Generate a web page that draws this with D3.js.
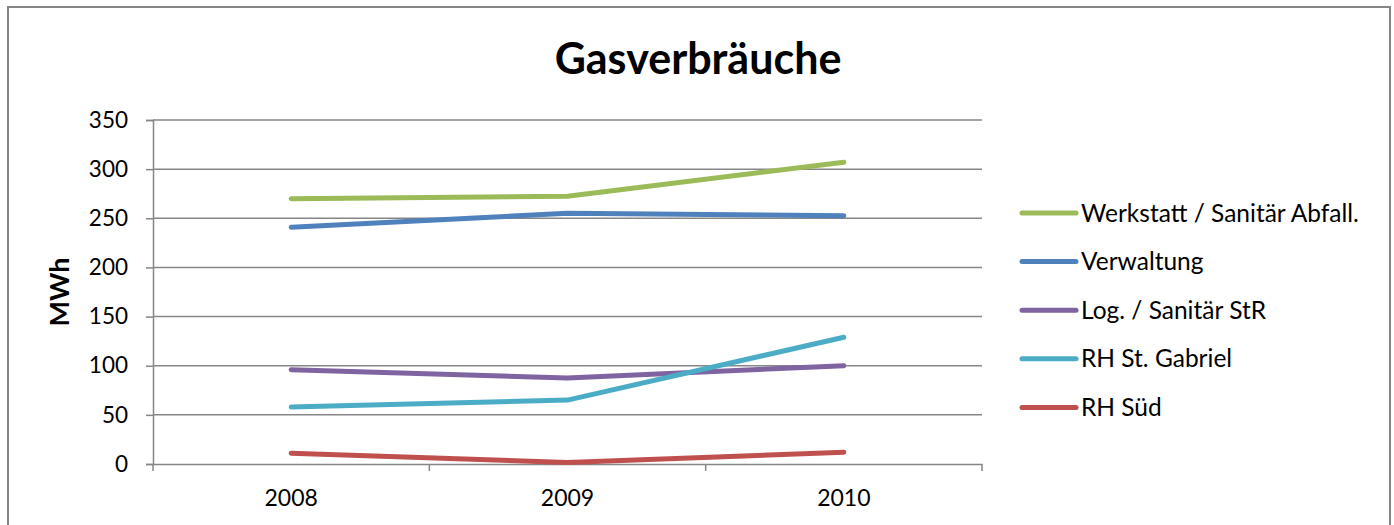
<!DOCTYPE html>
<html>
<head>
<meta charset="utf-8">
<script src="https://cdn.jsdelivr.net/npm/d3@7"></script>
<style>
  body { margin: 0; background: #fff; }
  text { font-family: Lato, "Open Sans", sans-serif; fill: #000; }
</style>
</head>
<body>
<div id="chart"></div>
<script>
// Data
var years = ["2008", "2009", "2010"];
var seriesNames = ["Werkstatt / Sanitär Abfall.", "Verwaltung", "Log. / Sanitär StR", "RH St. Gabriel", "RH Süd"];
var werkstatt = [270, 272.5, 307];
var verwaltung = [241, 255, 252.5];
var logSanitaer = [96, 87.5, 100];
var stGabriel = [58, 65, 129];
var rhSued = [11, 1.5, 12];
var yTicks = [0, 50, 100, 150, 200, 250, 300, 350];
var colors = ["#9bbb59", "#4f81bd", "#8064a2", "#4bacc6", "#c0504d"];

var allSeries = [werkstatt, verwaltung, logSanitaer, stGabriel, rhSued];

var svgWidth = 1394, svgHeight = 525;
var margins = { top: 120, left: 153, right: 412, bottom: 61 };
var width = svgWidth - margins.left - margins.right;
var height = svgHeight - margins.top - margins.bottom;

var svg = d3.select("#chart").append("svg")
    .attr("width", svgWidth)
    .attr("height", svgHeight);

// outer chart frame (bottom edge is cut off in the original)
svg.append("rect")
    .attr("x", 8).attr("y", 7)
    .attr("width", 1382).attr("height", 540)
    .attr("fill", "none")
    .attr("stroke", "#868686")
    .attr("stroke-width", 2);

svg.append("text")
    .attr("x", 698).attr("y", 74)
    .attr("text-anchor", "middle")
    .style("font-size", "43px")
    .style("font-weight", "bold")
    .text("Gasverbräuche");

var chartGroup = svg.append("g")
    .attr("transform", `translate(${margins.left}, ${margins.top})`);

var x = d3.scaleBand().domain(years).range([0, width]);
var y = d3.scaleLinear().domain([0, 350]).range([height, 0]);

// horizontal gridlines
chartGroup.append("g")
    .selectAll("line")
    .data(yTicks.filter(d => d > 0))
    .enter()
    .append("line")
    .attr("x1", 0).attr("x2", width)
    .attr("y1", d => y(d)).attr("y2", d => y(d))
    .attr("stroke", "#868686")
    .attr("stroke-width", 1.5);

var leftAxis = d3.axisLeft(y).tickValues(yTicks).tickSize(7).tickPadding(18);
var yAxisG = chartGroup.append("g").call(leftAxis);
yAxisG.select(".domain").attr("stroke", "#868686").attr("stroke-width", 1.5);
yAxisG.selectAll(".tick line").attr("stroke", "#868686").attr("stroke-width", 1.5);
yAxisG.selectAll(".tick text").style("font-size", "22.5px").style("font-family", "Lato, sans-serif");

// x axis with tick marks between categories
var bottomAxis = d3.axisBottom(x).tickSize(0).tickPadding(26);
var xAxisG = chartGroup.append("g")
    .attr("transform", `translate(0,${height})`)
    .call(bottomAxis);
xAxisG.select(".domain").attr("stroke", "#868686").attr("stroke-width", 1.5);
xAxisG.selectAll(".tick text").style("font-size", "23px").style("font-family", "Lato, sans-serif");
xAxisG.selectAll(".sep")
    .data(d3.range(years.length + 1))
    .enter()
    .append("line")
    .attr("x1", i => i * x.step()).attr("x2", i => i * x.step())
    .attr("y1", 0).attr("y2", 7)
    .attr("stroke", "#868686")
    .attr("stroke-width", 1.5);

// y axis title
chartGroup.append("text")
    .attr("transform", `translate(${-84}, ${y(175)}) rotate(-90)`)
    .attr("text-anchor", "middle")
    .style("font-size", "27px")
    .style("font-weight", "bold")
    .text("MWh");

var line = d3.line()
    .x((d, i) => x(years[i]) + x.bandwidth() / 2)
    .y(d => y(d));

chartGroup.selectAll(".series")
    .data(allSeries)
    .enter()
    .append("path")
    .attr("d", d => line(d))
    .attr("fill", "none")
    .attr("stroke", (d, i) => colors[i])
    .attr("stroke-width", 5)
    .attr("stroke-linecap", "round")
    .attr("stroke-linejoin", "round");

// legend
var legend = svg.append("g").attr("transform", "translate(1022, 213)");
var items = legend.selectAll("g")
    .data(seriesNames)
    .enter()
    .append("g")
    .attr("transform", (d, i) => `translate(0, ${i * 48.6})`);
items.append("line")
    .attr("x1", 0).attr("x2", 54)
    .attr("stroke", (d, i) => colors[i])
    .attr("stroke-width", 5)
    .attr("stroke-linecap", "round");
items.append("text")
    .attr("x", 59).attr("dy", "0.35em")
    .style("font-size", "24.5px")
    .text(d => d);
</script>
</body>
</html>
